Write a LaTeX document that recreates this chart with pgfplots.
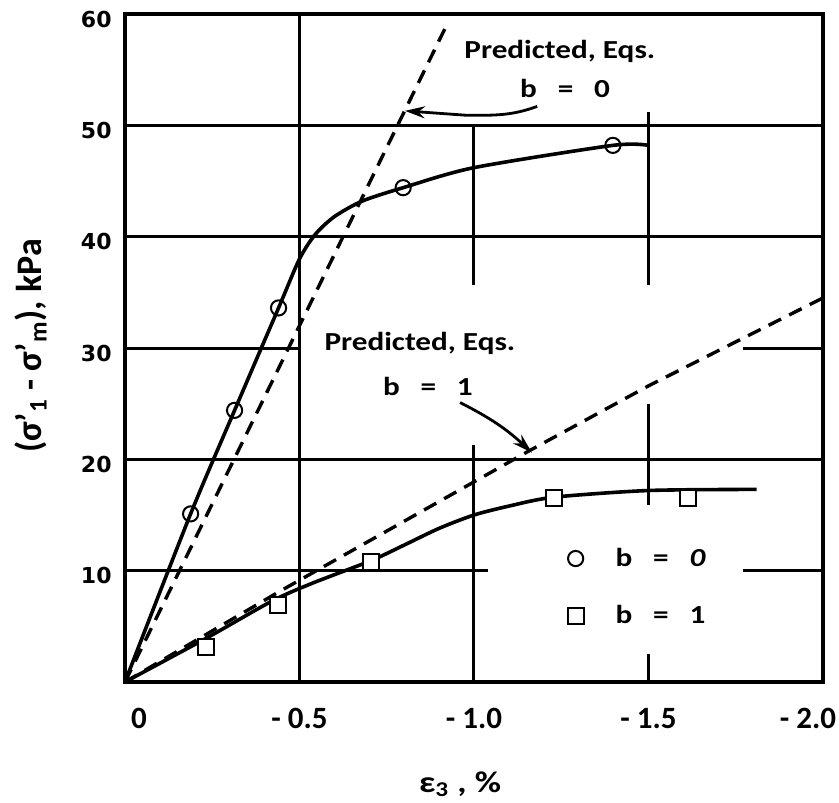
\documentclass[border=0pt]{standalone}
\usepackage{pgfplots}
\pgfplotsset{compat=1.18}
\usepackage{fontspec}
\setmainfont{Carlito}
\newfontfamily\annofont{Carlito}[UprightFont={* Bold}, FakeStretch=1.2]
\newfontfamily\ytfont{DejaVu Sans}
\usetikzlibrary{arrows.meta}

% measured points (strain in %, stress in kPa)
\pgfplotstableread{
x      y
-0.188 15.1
-0.314 24.4
-0.440 33.6
-0.797 44.4
-1.398 48.2
}\bzero
\pgfplotstableread{
x      y
-0.231 3.1
-0.438 6.9
-0.705 10.8
-1.229 16.5
-1.614 16.5
}\bone

\begin{document}
\begin{tikzpicture}
\begin{axis}[
    name=ax,
    scale only axis, width=349pt, height=334pt,
    xmin=-2, xmax=0, ymin=0, ymax=60,
    x dir=reverse,
    clip=false,
    axis line style={line width=1.6pt},
    major tick length=0pt,
    /pgf/number format/assume math mode=true,
    xtick={0,-0.5,-1,-1.5,-2},
    xticklabels={\hspace*{14pt}0, - 0.5, - 1.0, - 1.5, - 2.0\hspace*{15pt}},
    ytick={10,20,30,40,50,60},
    xticklabel style={font=\bfseries\fontsize{15.5}{17}\selectfont, anchor=base, inner sep=0pt, yshift=-23pt},
    yticklabel style={font=\ytfont\bfseries\fontsize{11}{13}\selectfont, anchor=east, inner sep=0pt, xshift=-6.5pt, yshift=-2.5pt},
    xlabel={ε\textsubscript{3} , \%},
    xlabel style={font=\annofont\fontsize{15}{17}\selectfont, at={(axis description cs:0.48,0)}, anchor=base, yshift=-55pt},
    ylabel={(σ’\textsubscript{1} - σ’\textsubscript{m}), kPa},
    ylabel style={font=\bfseries\fontsize{18}{20}\selectfont, at={(axis description cs:-0.135,0.503)}, anchor=center},
    legend style={draw=none, fill=none, at={(axis cs:-1.25,12.8)}, anchor=north west,
        row sep=14pt, font=\annofont\fontsize{13}{15}\selectfont},
    legend cell align=left,
]
% partial grid lines
\begin{scope}[line width=1.5pt]
\draw (axis cs:-0.5,0) -- (axis cs:-0.5,60);
\draw (axis cs:-1.0,0) -- (axis cs:-1.0,21.3);
\draw (axis cs:-1.0,35.7) -- (axis cs:-1.0,50);
\draw (axis cs:-1.5,0) -- (axis cs:-1.5,2.5);
\draw (axis cs:-1.5,15.9) -- (axis cs:-1.5,25);
\draw (axis cs:-1.5,35.7) -- (axis cs:-1.5,51.2);
\draw (axis cs:0,10) -- (axis cs:-1.04,10);
\draw (axis cs:-1.77,10) -- (axis cs:-2,10);
\draw (axis cs:0,20) -- (axis cs:-2,20);
\draw (axis cs:0,30) -- (axis cs:-0.5,30);
\draw (axis cs:-1.77,30) -- (axis cs:-2,30);
\draw (axis cs:0,40) -- (axis cs:-2,40);
\draw (axis cs:0,50) -- (axis cs:-2,50);
\end{scope}

% predicted (dashed)
\addplot[forget plot, line width=1.7pt, dash pattern=on 7pt off 4.5pt] coordinates {(0,0) (-0.917,58.7)};
\addplot[forget plot, line width=1.7pt, dash pattern=on 7pt off 4.5pt] coordinates {(0,0) (-0.441,8.1) (-1.16,20.8) (-1.5,26.6) (-2.0,34.5)};

% fitted curves
\addplot[forget plot, line width=1.8pt, smooth, tension=0.45] coordinates {
    (0,0) (-0.188,15.1) (-0.314,24.4) (-0.44,33.6) (-0.5,38.0) (-0.545,40.2)
    (-0.60,41.8) (-0.68,43.2) (-0.797,44.4) (-1.0,46.2) (-1.398,48.2) (-1.5,48.2)};
\addplot[forget plot, line width=1.8pt, smooth, tension=0.45] coordinates {
    (0,0) (-0.231,3.9) (-0.423,7.3) (-0.539,8.9) (-0.705,10.9) (-0.80,12.3)
    (-0.90,13.8) (-1.0,15.0) (-1.1,15.8) (-1.229,16.6) (-1.5,17.2) (-1.81,17.3)};

% data points
\addplot[only marks, mark=o, mark size=3.8pt, line width=1pt,
    mark options={fill=white}] table {\bzero};
\addlegendentry{\hspace*{14pt}b\hspace{0.8em}=\hspace{0.8em}\textit{0}}
\addplot[only marks, mark=square*, mark size=4pt, line width=1pt,
    mark options={fill=white, draw=black}] table {\bone};
\addlegendentry{\hspace*{14pt}b\hspace{0.8em}=\hspace{0.8em}1}

% annotations
\begin{scope}[font=\annofont\fontsize{13}{15}\selectfont]
\node at (axis cs:-1.246,56.6) {Predicted, Eqs.};
\node at (axis cs:-1.261,53.3) {b\hspace{0.8em}=\hspace{0.8em}0};
\node at (axis cs:-0.845,30.4) {Predicted, Eqs.};
\node at (axis cs:-0.868,26.5) {b\hspace{0.8em}=\hspace{0.8em}1};
\end{scope}
\draw[line width=1.4pt, -{Stealth[length=10pt,width=6pt]}]
    (axis cs:-1.181,51.7) to[out=200,in=0] (axis cs:-0.98,50.9) -- (axis cs:-0.802,51.3);
\draw[line width=1.4pt, -{Stealth[length=10pt,width=6pt]}]
    (axis cs:-0.96,25.1) to[bend left=8] (axis cs:-1.166,20.6);
\end{axis}
\pgfresetboundingbox
\path[use as bounding box] (ax.south west) ++(-62.5pt,-60pt) rectangle ([shift={(8pt,7pt)}]ax.north east);
\end{tikzpicture}
\end{document}
